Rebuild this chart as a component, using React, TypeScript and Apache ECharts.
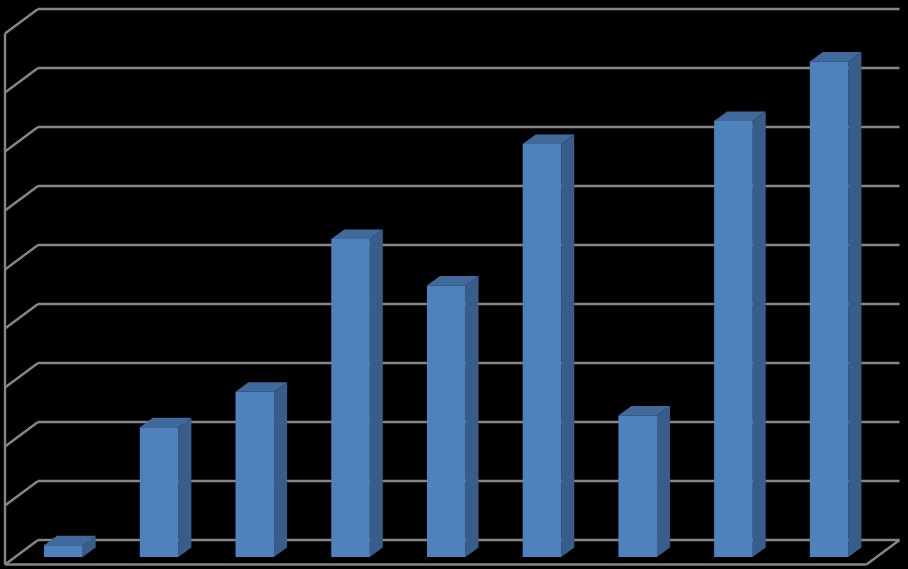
import React, { useEffect, useRef } from "react";
import * as echarts from "echarts";

const categories = ["1", "2", "3", "4", "5", "6", "7", "8", "9"];
const values = [0.2, 2.2, 2.8, 5.39, 4.6, 7.0, 2.4, 7.39, 8.4];
const ticks = [0, 1, 2, 3, 4, 5, 6, 7, 8, 9];

const GRID_COLOR = "#868686";
const FRONT = "#4F81BD";
const SIDE = "#385D8A";
const TOP = "#406A9C";

export default function App() {
  const ref = useRef<HTMLDivElement>(null);
  useEffect(() => {
    document.body.style.margin = "0";
    document.body.style.background = "#000";
    const chart = echarts.init(ref.current!, null, { renderer: "svg" });
    const lineStyle = { stroke: GRID_COLOR, lineWidth: 2.4, fill: "none" };
    chart.setOption({
      animation: false,
      backgroundColor: "#000",
      grid: { left: 38, right: 8.5, top: 9, bottom: 29 },
      xAxis: {
        type: "category",
        data: categories,
        axisLine: { show: false },
        axisTick: { show: false },
        axisLabel: { show: false },
      },
      yAxis: {
        type: "value",
        min: 0,
        max: 9,
        interval: 1,
        axisLine: { show: false },
        axisTick: { show: false },
        axisLabel: { show: false },
        splitLine: { show: true, lineStyle: { color: GRID_COLOR, width: 2.4 } },
      },
      series: [
        {
          type: "custom",
          silent: true,
          z: 1,
          data: ticks.map((t) => [0, t]),
          renderItem: (params: any, api: any) => {
            const cs = params.coordSys;
            const t = api.value(1);
            const y = api.coord([0, t])[1];
            const left = cs.x;
            const right = cs.x + cs.width;
            const children: any[] = [
              {
                type: "line",
                shape: { x1: left, y1: y, x2: left - 33, y2: y + 24.5 },
                style: lineStyle,
              },
            ];
            if (t === 0) {
              const bottom = y + 24.5;
              const topY = api.coord([0, ticks[ticks.length - 1]])[1] + 24.5;
              children.push(
                { type: "line", shape: { x1: left - 33, y1: topY, x2: left - 33, y2: bottom }, style: lineStyle },
                { type: "line", shape: { x1: left - 33, y1: bottom, x2: right - 33, y2: bottom }, style: lineStyle },
                { type: "line", shape: { x1: right - 33, y1: bottom, x2: right, y2: y }, style: lineStyle },
              );
            }
            return { type: "group", children };
          },
        },
        {
          type: "custom",
          silent: true,
          z: 2,
          data: values.map((v, i) => [i, v]),
          renderItem: (_params: any, api: any) => {
            const i = api.value(0);
            const v = api.value(1);
            const top = api.coord([i, v]);
            const base = api.coord([i, 0]);
            const w = 38.6;
            const dx = 13;
            const dy = 9.5;
            const x0 = top[0] - 22.5 - w / 2;
            const x1 = x0 + w;
            const yT = top[1] + 17;
            const yB = base[1] + 17;
            return {
              type: "group",
              children: [
                {
                  type: "polygon",
                  shape: { points: [[x1, yT], [x1 + dx, yT - dy], [x1 + dx, yB - dy], [x1, yB]] },
                  style: { fill: SIDE },
                },
                {
                  type: "polygon",
                  shape: { points: [[x0, yT], [x0 + dx, yT - dy], [x1 + dx, yT - dy], [x1, yT]] },
                  style: { fill: TOP },
                },
                {
                  type: "polygon",
                  shape: { points: [[x0, yT], [x1, yT], [x1, yB], [x0, yB]] },
                  style: { fill: FRONT },
                },
              ],
            };
          },
        },
      ],
    });
    return () => chart.dispose();
  }, []);
  return <div ref={ref} style={{ width: 908, height: 569 }} />;
}
